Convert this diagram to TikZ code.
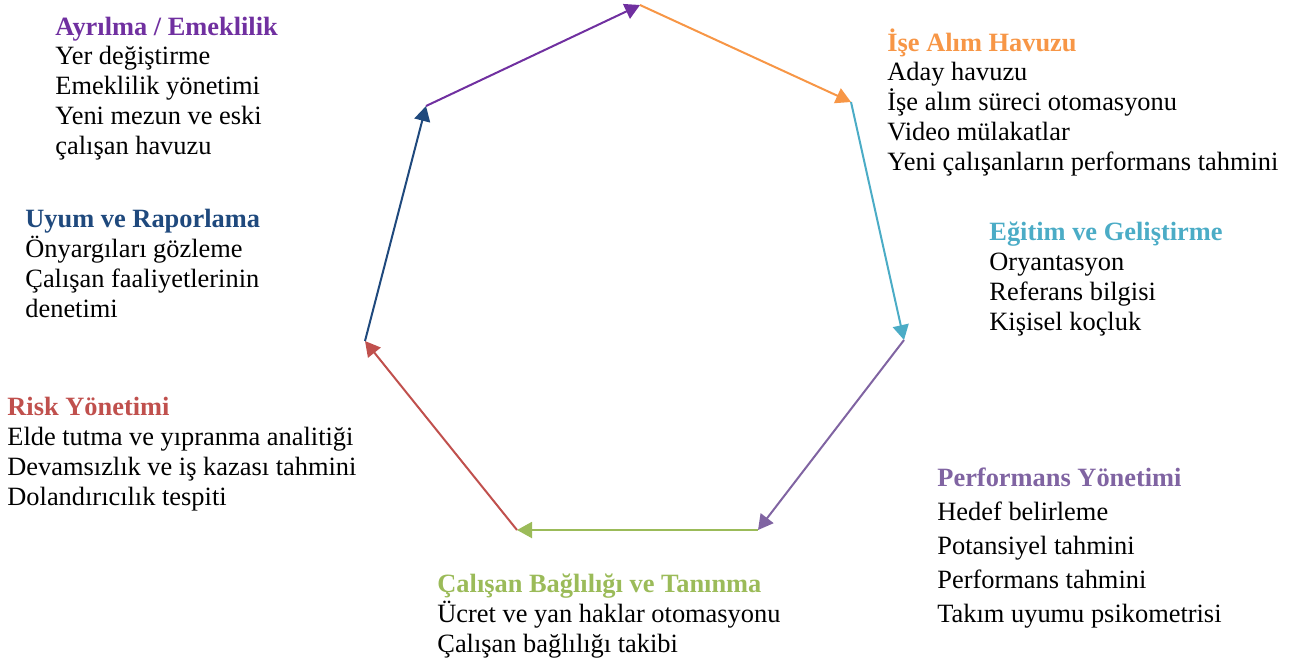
\documentclass[tikz,border=0pt]{standalone}
\usepackage{fontspec}
\setmainfont{Liberation Serif}
\usetikzlibrary{arrows.meta}
\definecolor{ayrcol}{HTML}{7030A0}
\definecolor{isecol}{HTML}{F79646}
\definecolor{egtcol}{HTML}{4BACC6}
\definecolor{perfcol}{HTML}{8064A2}
\definecolor{bagcol}{HTML}{9BBB59}
\definecolor{riskcol}{HTML}{C0504D}
\definecolor{uyumcol}{HTML}{1F497D}
\tikzset{
     area/.style={
           anchor=base west,
           inner sep=0pt,
           align=left,
           font=\fontsize{13.2}{14.85}\selectfont,
           },
     link/.style={
           -{Triangle[length=7.5pt,width=8pt]},
           line width=1pt,
           },
}

\begin{document}
\begin{tikzpicture}[x=0.5pt, y=-0.5pt]
	\useasboundingbox (0,0) rectangle (1293,661);
	
	% corners of the cycle
	\coordinate (c1) at (640,5);
	\coordinate (c2) at (851,102);
	\coordinate (c3) at (904,340);
	\coordinate (c4) at (758,530);
	\coordinate (c5) at (517,530);
	\coordinate (c6) at (365,341);
	\coordinate (c7) at (426,106);
	
	% text blocks, placed at the baseline of their last line
	\node[area] (ayr) at (55,154) {
		\textbf{\color{ayrcol}Ayrılma / Emeklilik}\\
		Yer değiştirme\\
		Emeklilik yönetimi\\
		Yeni mezun ve eski\\
		çalışan havuzu
	};
	
	\node[area] (ise) at (887,170) {
		\textbf{\color{isecol}İşe Alım Havuzu}\\
		Aday havuzu\\
		İşe alım süreci otomasyonu\\
		Video mülakatlar\\
		Yeni çalışanların performans tahmini
	};
	
	\node[area] (egt) at (989,330) {
		\textbf{\color{egtcol}Eğitim ve Geliştirme}\\
		Oryantasyon\\
		Referans bilgisi\\
		Kişisel koçluk
	};
	
	\node[area, font=\fontsize{13.2}{17}\selectfont] (perf) at (937,622) {
		\textbf{\color{perfcol}Performans Yönetimi}\\
		Hedef belirleme\\
		Potansiyel tahmini\\
		Performans tahmini\\
		Takım uyumu psikometrisi
	};
	
	\node[area] (bag) at (437,652) {
		\textbf{\color{bagcol}Çalışan Bağlılığı ve Tanınma}\\
		Ücret ve yan haklar otomasyonu\\
		Çalışan bağlılığı takibi
	};
	
	\node[area] (risk) at (7,505) {
		\textbf{\color{riskcol}Risk Yönetimi}\\
		Elde tutma ve yıpranma analitiği\\
		Devamsızlık ve iş kazası tahmini\\
		Dolandırıcılık tespiti
	};
	
	\node[area] (uyum) at (25,317) {
		\textbf{\color{uyumcol}Uyum ve Raporlama}\\
		Önyargıları gözleme\\
		Çalışan faaliyetlerinin\\
		denetimi
	};
	
	\draw[link, ayrcol]  (c7) -- (c1);
	\draw[link, isecol]  (c1) -- (c2);
	\draw[link, egtcol]  (c2) -- (c3);
	\draw[link, perfcol] (c3) -- (c4);
	\draw[link, bagcol]  (c4) -- (c5);
	\draw[link, riskcol] (c5) -- (c6);
	\draw[link, uyumcol] (c6) -- (c7);

\end{tikzpicture}
\end{document}
